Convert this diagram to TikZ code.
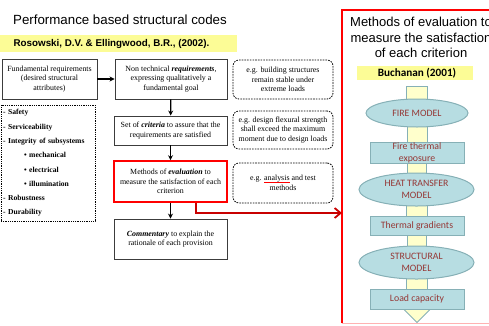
\documentclass[tikz,border=0pt]{standalone}
\usepackage{fontspec}
\setmainfont{Liberation Serif}
\newfontfamily\arialf{Liberation Sans}
\newfontfamily\calf{Carlito}
\usetikzlibrary{arrows.meta,shapes.geometric,backgrounds}
\definecolor{tealfill}{RGB}{183,221,226}
\definecolor{tealline}{RGB}{134,176,182}
\definecolor{paleyel}{RGB}{255,255,204}
\definecolor{bandyel}{RGB}{252,252,150}
\definecolor{maroontxt}{RGB}{149,55,53}
\definecolor{darkred}{RGB}{200,0,0}
\definecolor{boxline}{RGB}{60,60,60}
\newcommand\myredul[1]{\setbox0\hbox{#1}\rlap{\color{red}\rule[-2.2pt]{\wd0}{0.8pt}}#1}
\begin{document}
\begin{tikzpicture}[x=1pt,y=-1pt,
  sbox/.style={draw=boxline, line width=0.9pt, fill=white, align=center, inner sep=1pt,
    font=\fontsize{7.9}{9.5}\selectfont},
  dbox/.style={draw=black, dash pattern=on 1.6pt off 1.1pt, rounded corners=6pt, line width=0.8pt,
    align=center, inner sep=1pt, font=\fontsize{7.9}{9.5}\selectfont},
  lbox/.style={draw=black, dash pattern=on 1pt off 0.8pt, line width=0.8pt, align=left, inner sep=2pt,
    font=\bfseries\fontsize{7.6}{14.3}\selectfont},
  arr/.style={-{Stealth[length=5pt,width=5pt]}, line width=1.2pt},
  ell/.style={ellipse, draw=tealline, fill=tealfill, line width=1pt, text=maroontxt, align=center,
    inner sep=0pt, font=\calf\fontsize{9.8}{12.5}\selectfont},
  rbox/.style={rectangle, draw=tealline, fill=tealfill, line width=1pt, text=maroontxt, align=center,
    inner sep=0pt, font=\calf\fontsize{9.8}{12}\selectfont},
  conn/.style={draw=tealline, fill=paleyel, line width=0.9pt},
  band/.style={fill=bandyel, inner sep=0pt}
]
\useasboundingbox (0,0) rectangle (489,325);
\clip (0,0) rectangle (489,325);

% left header
\node[font=\arialf\fontsize{13.3}{15}\selectfont] (title) at (120,20) {Performance based structural codes};
\node[band, minimum width=237, minimum height=17] (rband) at (118.5,43.5) {};
\node[font=\arialf\bfseries\fontsize{9.8}{11}\selectfont] (rtext) at (111.5,44) {Rosowski, D.V. \& Ellingwood, B.R., (2002).};

% left boxes
\node[sbox, minimum width=95, minimum height=40] (fund) at (49.5,79) {Fundamental requirements\\(desired structural\\attributes)};
\node[sbox, minimum width=112, minimum height=40] (nontech) at (171,79) {Non technical \textbf{\textit{requirements}},\\expressing qualitatively a\\fundamental goal};
\node[sbox, minimum width=113, minimum height=29] (crit) at (170.5,130.5) {Set of \textbf{\textit{criteria}} to assure that the\\requirements are satisfied};
\node[sbox, draw=red, line width=1.6pt, minimum width=113, minimum height=41] (eval) at (170.5,181.5) {Methods of \textbf{\textit{evaluation}} to\\measure the satisfaction of each\\criterion};
\node[sbox, minimum width=113, minimum height=40] (comm) at (170.5,239) {\textbf{\textit{Commentary}} to explain the\\rationale of each provision};

\node[dbox, minimum width=100, minimum height=39] (ex1) at (283,79.5) {e.g. building structures\\remain stable under\\extreme loads};
\node[dbox, minimum width=100, minimum height=38] (ex2) at (283,130) {e.g. design flexural strength\\shall exceed the maximum\\moment due to design loads};
\node[dbox, minimum width=100, minimum height=40] (ex3) at (283,183) {e.g. \myredul{analysis} and test\\methods};

\node[lbox, text width=90, minimum height=116] (attr) at (48,163) {- Safety\\- Serviceability\\- Integrity of subsystems\\\hspace*{21pt}\textbullet\ mechanical\\\hspace*{21pt}\textbullet\ electrical\\\hspace*{21pt}\textbullet\ illumination\\- Robustness\\- Durability};

\draw[arr] (fund) -- (nontech);
\draw[arr] (nontech) -- (crit);
\draw[arr] (crit) -- (eval);
\draw[arr] (eval) -- (comm);

% right panel
\node[minimum width=150, minimum height=313, inner sep=0pt, anchor=north west] (panel) at (342,10) {};
\draw[red!30, line width=1pt] (panel.south west) -- (panel.south east);
\draw[red, line width=1.5pt] (panel.south west) -- (panel.north west) -- (panel.north east);
\node[font=\arialf\fontsize{13}{15.5}\selectfont, align=center] (ptitle) at (421,37.5) {Methods of evaluation to\\measure the satisfaction\\of each criterion};
\node[band, minimum width=116, minimum height=14.5] (bband) at (415,73) {};
\node[font=\calf\bfseries\fontsize{11.2}{13}\selectfont] (btext) at (417,73) {Buchanan (2001)};

\node[rectangle, draw=tealline, fill=paleyel, line width=0.9pt, minimum width=21, minimum height=13, inner sep=0pt] (sq) at (416.5,92.5) {};
\node[ell, minimum width=102, minimum height=28] (fire) at (417,113) {FIRE MODEL};
\node[rbox, minimum width=94, minimum height=20] (fte) at (417,153) {Fire thermal\\exposure};
\node[ell, minimum width=115, minimum height=33] (heat) at (416.5,189.5) {HEAT TRANSFER\\MODEL};
\node[rbox, minimum width=94, minimum height=19] (tg) at (417,225.5) {Thermal gradients};
\node[ell, minimum width=115, minimum height=33] (struct) at (416.5,262.5) {STRUCTURAL\\MODEL};
\node[rbox, minimum width=94, minimum height=20] (load) at (417,299) {Load capacity};

\begin{scope}[on background layer]
  \path[conn] ([xshift=-10pt,yshift=4pt]fire.south) rectangle ([xshift=10pt,yshift=-2pt]fte.north);
  \path[conn] ([xshift=-10pt,yshift=2pt]fte.south) rectangle ([xshift=10pt,yshift=-4pt]heat.north);
  \path[conn] ([xshift=-10pt,yshift=4pt]heat.south) rectangle ([xshift=10pt,yshift=-2pt]tg.north);
  \path[conn] ([xshift=-10pt,yshift=2pt]tg.south) rectangle ([xshift=10pt,yshift=-4pt]struct.north);
  \path[conn] ([xshift=-10pt,yshift=4pt]struct.south) rectangle ([xshift=10pt,yshift=-2pt]load.north);
\end{scope}
\path[conn, line join=round] ([xshift=-13pt]load.south) -- ([xshift=13pt]load.south) -- ([yshift=-13pt]load.south) -- cycle;

% red connector
\coordinate (rj) at (196,213);
\draw[darkred, line width=1.8pt, -{Straight Barb[length=6pt,width=10pt]}] (eval.south -| rj) -- (rj) -- (panel.west |- rj);
\end{tikzpicture}
\end{document}
